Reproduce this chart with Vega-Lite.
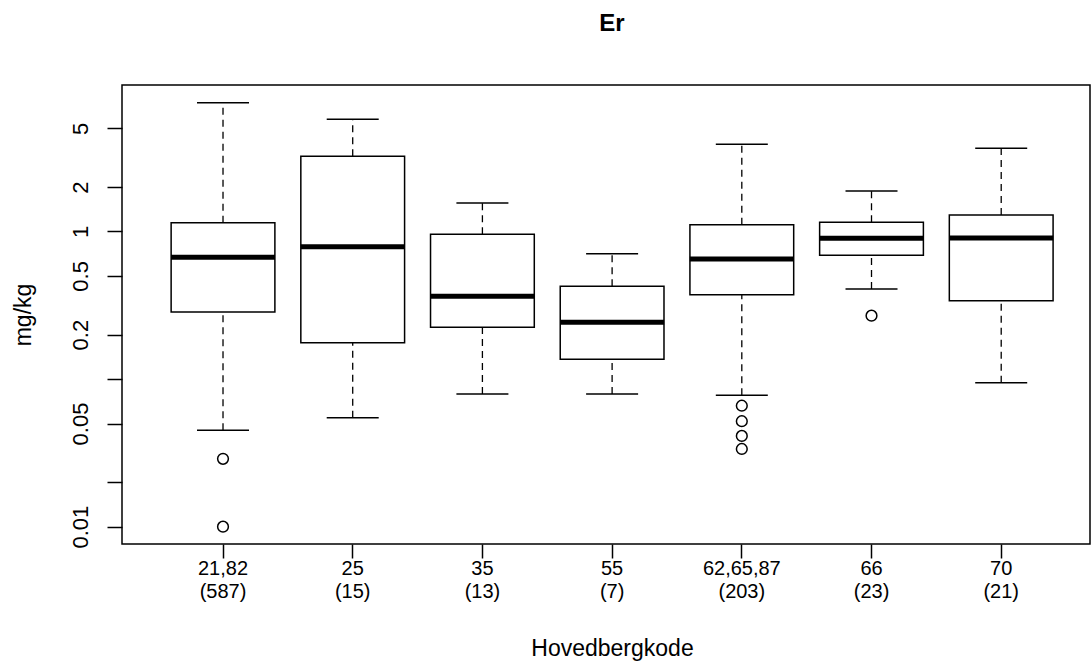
{
  "$schema": "https://vega.github.io/schema/vega-lite/v6.json",
  "width": 968,
  "height": 459,
  "autosize": {"type": "none"},
  "padding": {"left": 122, "top": 85, "right": 2, "bottom": 118},
  "background": "white",
  "title": {"text": "Er", "font": "Liberation Sans", "fontSize": 24, "fontWeight": "bold", "color": "black", "anchor": "middle", "baseline": "alphabetic", "offset": 30, "dx": 6},
  "config": {
    "view": {"stroke": "black", "strokeWidth": 1.5},
    "font": "Liberation Sans",
    "axisY": {
      "labelAngle": -90,
      "labelAlign": "center",
      "labelBaseline": "alphabetic",
      "labelFont": "Liberation Sans",
      "labelFontSize": 22,
      "labelPadding": 20,
      "labelColor": "black",
      "labelOverlap": false,
      "tickSize": 15,
      "tickWidth": 1.5,
      "tickColor": "black",
      "domain": false,
      "grid": false,
      "titleFont": "Liberation Sans",
      "titleFontSize": 23,
      "titleFontWeight": "normal",
      "titleColor": "black",
      "titleAngle": -90,
      "titleX": -99,
      "titleY": 229.5,
      "titleAlign": "center",
      "titleBaseline": "middle"
    }
  },
  "datasets": {
    "boxes": [
      {"group": "21,82 (587)", "lower": 0.045, "q1": 0.285, "median": 0.668, "q3": 1.147, "upper": 7.46},
      {"group": "25 (15)", "lower": 0.0548, "q1": 0.1765, "median": 0.789, "q3": 3.23, "upper": 5.76},
      {"group": "35 (13)", "lower": 0.0793, "q1": 0.2244, "median": 0.364, "q3": 0.957, "upper": 1.56},
      {"group": "55 (7)", "lower": 0.0793, "q1": 0.136, "median": 0.2427, "q3": 0.4253, "upper": 0.707},
      {"group": "62,65,87 (203)", "lower": 0.0776, "q1": 0.3733, "median": 0.651, "q3": 1.112, "upper": 3.9},
      {"group": "66 (23)", "lower": 0.4077, "q1": 0.69, "median": 0.899, "q3": 1.154, "upper": 1.88},
      {"group": "70 (21)", "lower": 0.0946, "q1": 0.3398, "median": 0.904, "q3": 1.294, "upper": 3.66}
    ],
    "outliers": [
      {"group": "21,82 (587)", "value": 0.0288},
      {"group": "21,82 (587)", "value": 0.01},
      {"group": "62,65,87 (203)", "value": 0.066},
      {"group": "62,65,87 (203)", "value": 0.0518},
      {"group": "62,65,87 (203)", "value": 0.0412},
      {"group": "62,65,87 (203)", "value": 0.0336},
      {"group": "66 (23)", "value": 0.2689}
    ]
  },
  "encoding": {
    "x": {
      "field": "group",
      "type": "nominal",
      "scale": {
        "domain": ["21,82 (587)", "25 (15)", "35 (13)", "55 (7)", "62,65,87 (203)", "66 (23)", "70 (21)"],
        "paddingInner": 0.2,
        "paddingOuter": 0.3317,
        "align": 0.571
      },
      "axis": {
        "title": "Hovedbergkode",
        "labelExpr": "split(datum.value, ' ')",
        "labelAngle": 0,
        "labelAlign": "center",
        "labelBaseline": "top",
        "labelFont": "Liberation Sans",
        "labelFontSize": 20,
        "labelLineHeight": 23,
        "labelPadding": 0,
        "labelColor": "black",
        "labelOverlap": false,
        "tickSize": 14,
        "tickWidth": 1.5,
        "tickColor": "black",
        "domain": false,
        "grid": false,
        "titleFont": "Liberation Sans",
        "titleFontSize": 23,
        "titleFontWeight": "normal",
        "titleColor": "black",
        "titleX": 490,
        "titleY": 111,
        "titleAlign": "center",
        "titleBaseline": "alphabetic"
      }
    }
  },
  "layer": [
    {
      "data": {"name": "boxes"},
      "mark": {"type": "rule", "color": "black", "strokeWidth": 1.3, "strokeDash": [7, 5]},
      "encoding": {
        "y": {
          "field": "lower",
          "type": "quantitative",
          "title": "mg/kg",
          "scale": {"type": "log", "domain": [0.00763, 9.83], "nice": false, "zero": false},
          "axis": {
            "values": [0.01, 0.02, 0.05, 0.1, 0.2, 0.5, 1, 2, 5],
            "labelExpr": "(datum.value == 0.02 || datum.value == 0.1) ? '' : format(datum.value, '~g')"
          }
        },
        "y2": {"field": "q1"}
      }
    },
    {
      "data": {"name": "boxes"},
      "mark": {"type": "rule", "color": "black", "strokeWidth": 1.3, "strokeDash": [7, 5]},
      "encoding": {
        "y": {"field": "q3", "type": "quantitative", "title": "mg/kg"},
        "y2": {"field": "upper"}
      }
    },
    {
      "data": {"name": "boxes"},
      "mark": {"type": "tick", "color": "black", "size": 52, "thickness": 1.5, "opacity": 1},
      "encoding": {
        "y": {"field": "lower", "type": "quantitative", "title": "mg/kg"}
      }
    },
    {
      "data": {"name": "boxes"},
      "mark": {"type": "tick", "color": "black", "size": 52, "thickness": 1.5, "opacity": 1},
      "encoding": {
        "y": {"field": "upper", "type": "quantitative", "title": "mg/kg"}
      }
    },
    {
      "data": {"name": "boxes"},
      "mark": {"type": "bar", "fill": "white", "stroke": "black", "strokeWidth": 1.5, "opacity": 1},
      "encoding": {
        "y": {"field": "q1", "type": "quantitative", "title": "mg/kg"},
        "y2": {"field": "q3"}
      }
    },
    {
      "data": {"name": "boxes"},
      "mark": {"type": "tick", "color": "black", "size": 104, "thickness": 5, "opacity": 1},
      "encoding": {
        "y": {"field": "median", "type": "quantitative", "title": "mg/kg"}
      }
    },
    {
      "data": {"name": "outliers"},
      "mark": {"type": "point", "shape": "circle", "filled": false, "color": "black", "strokeWidth": 1.5, "size": 115, "opacity": 1},
      "encoding": {
        "y": {"field": "value", "type": "quantitative", "title": "mg/kg"}
      }
    }
  ]
}
